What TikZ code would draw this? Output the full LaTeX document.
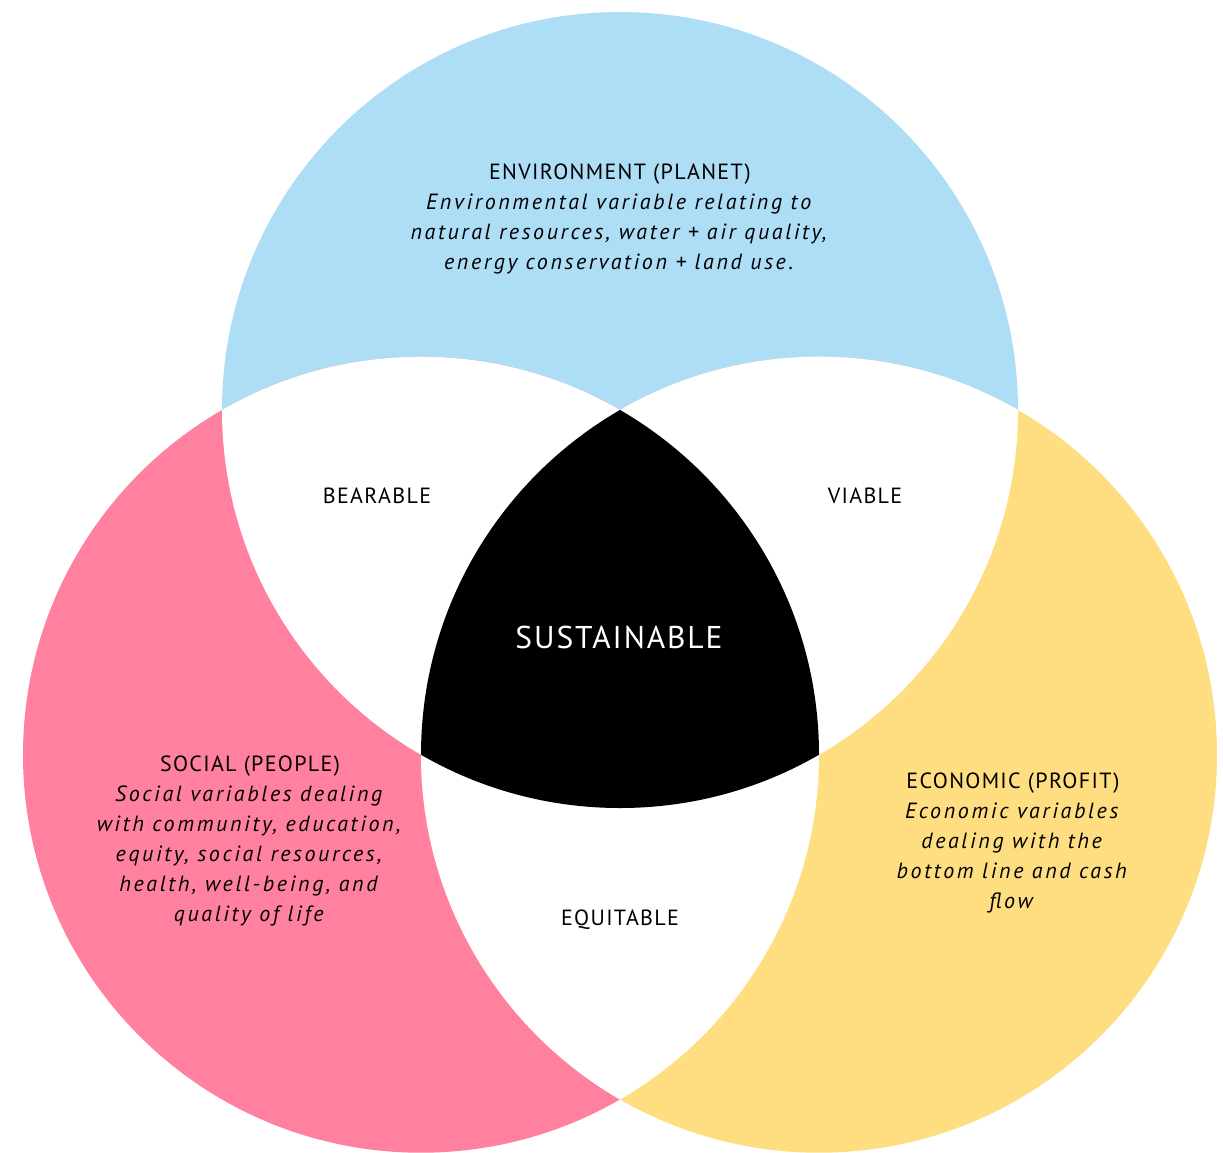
\documentclass[tikz,border=0pt]{standalone}
\usepackage{fontspec}
\setmainfont{PT Sans}[LetterSpace=6, ItalicFeatures={LetterSpace=12}]
\usetikzlibrary{positioning}

\definecolor{planetblue}{HTML}{AEDDF6}
\definecolor{peoplepink}{HTML}{FF819F}
\definecolor{profityellow}{HTML}{FFDE82}

\begin{document}
\begin{tikzpicture}[
    x=1pt, y=-1pt,
    region/.style={align=center, font=\fontsize{22}{30}\selectfont},
    blurb/.style={region, font=\fontsize{22}{30}\selectfont},
    core/.style={align=center, text=white, font=\fontsize{31.5}{40}\selectfont}
]
\useasboundingbox (0,0) rectangle (1223,1152);

% Circle centres
\coordinate (planet) at (620,410);
\coordinate (people) at (421,754.7);
\coordinate (profit) at (819,754.7);

% Circles
\fill[planetblue] (planet) circle (398);
\fill[peoplepink] (people) circle (398);
\fill[profityellow] (profit) circle (398);

% Pairwise overlaps
\begin{scope}
    \clip (planet) circle (398);
    \fill[white] (people) circle (398);
    \fill[white] (profit) circle (398);
\end{scope}
\begin{scope}
    \clip (people) circle (398);
    \fill[white] (profit) circle (398);
\end{scope}

% Centre overlap
\begin{scope}
    \clip (planet) circle (398);
    \clip (people) circle (398);
    \fill[black] (profit) circle (398);
\end{scope}

% Nodes
\node[blurb] (envtext) at (620,219) {ENVIRONMENT (PLANET)\\
    \textit{Environmental variable relating to}\\
    \textit{natural resources, water + air quality,}\\
    \textit{energy conservation + land use.}};
\node[blurb] (soctext) at (250,841) {SOCIAL (PEOPLE)\\
    \textit{Social variables dealing}\\
    \textit{with community, education,}\\
    \textit{equity, social resources,}\\
    \textit{health, well-being, and}\\
    \textit{quality of life}};
\node[blurb] (ecotext) at (1013,843) {ECONOMIC (PROFIT)\\
    \textit{Economic variables}\\
    \textit{dealing with the}\\
    \textit{bottom line and cash}\\
    \textit{flow}};

\node[region] (bearable) at (377,496) {BEARABLE};
\node[region] (viable) at (865,496) {VIABLE};
\node[region] (equitable) at (620,920) {EQUITABLE};
\node[core] (sustainable) at (619,637) {SUSTAINABLE};

\end{tikzpicture}
\end{document}
